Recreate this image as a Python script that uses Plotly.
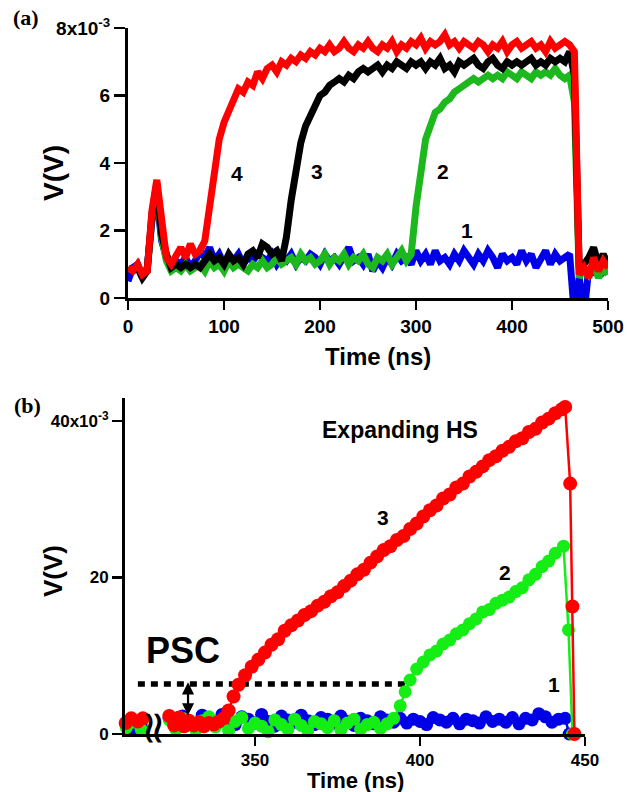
import plotly.graph_objects as go

# ---------------- Panel (a) data (values in mV, time in ns) ----------------
t_a = list(range(0, 505, 5))
v4_red = [0.9, 0.8, 1.0, 0.7, 0.8, 2.6, 3.5, 2.1, 1.2, 1.0,
          1.3, 1.5, 1.2, 1.6, 1.3, 1.4, 1.7, 2.7, 3.8, 4.7,
          5.2, 5.5, 5.9, 6.2, 6.1, 6.4, 6.3, 6.7, 6.5, 6.8,
          6.9, 6.7, 7.0, 6.9, 7.1, 7.0, 7.2, 7.1, 7.3, 7.2,
          7.4, 7.3, 7.5, 7.3, 7.4, 7.6, 7.4, 7.3, 7.5, 7.4,
          7.6, 7.4, 7.3, 7.5, 7.4, 7.6, 7.3, 7.5, 7.4, 7.6,
          7.5, 7.7, 7.4, 7.6, 7.5, 7.6, 7.8, 7.5, 7.6, 7.4,
          7.6, 7.5, 7.4, 7.6, 7.5, 7.3, 7.5, 7.4, 7.6, 7.3,
          7.5, 7.6, 7.4, 7.5, 7.6, 7.4, 7.5, 7.3, 7.6, 7.4,
          7.5, 7.6, 7.5, 7.3, 0.7, 0.9, 0.6, 1.2, 0.8, 1.1,
          0.9]
v3_black = [0.9, 0.8, 0.9, 0.6, 0.8, 2.5, 3.4, 1.9, 1.3, 0.9,
            1.0, 0.9, 1.0, 0.9, 1.0, 0.9, 1.1, 1.3, 1.1, 1.2,
            1.0, 1.3, 1.1, 1.2, 1.0, 1.3, 1.4, 1.2, 1.6, 1.5,
            1.3, 1.4, 1.1, 1.8, 2.9, 3.8, 4.6, 5.1, 5.4, 5.7,
            6.0, 6.1, 6.3, 6.4, 6.5, 6.4, 6.6, 6.5, 6.7, 6.8,
            6.7, 6.8, 6.9, 6.7, 6.9, 6.8, 7.0, 6.9, 6.8, 7.0,
            6.9, 7.0, 6.8, 7.0, 6.9, 7.1, 6.8, 6.9, 6.7, 7.0,
            6.9, 7.0, 7.1, 6.9, 6.8, 7.0, 7.1, 6.9, 6.8, 7.0,
            6.9, 7.0, 6.9, 7.0, 7.1, 6.9, 7.0, 6.9, 7.1, 7.0,
            7.1, 7.0, 7.3, 6.6, 0.9, 1.0, 1.2, 1.5, 1.0, 1.3,
            1.0]
v2_green = [0.9, 0.8, 0.9, 0.7, 0.8, 2.4, 3.3, 1.8, 1.1, 0.8,
            0.9, 0.8, 1.0, 0.8, 0.9, 1.0, 0.8, 1.1, 0.9, 1.0,
            0.8, 1.1, 0.9, 1.0, 0.9, 0.8, 1.0, 0.9, 1.1, 0.9,
            1.0, 1.2, 1.0, 1.1, 1.2, 1.0, 1.3, 1.1, 1.2, 1.0,
            1.1, 1.3, 1.0, 1.2, 1.1, 1.3, 1.0, 1.2, 1.1, 1.3,
            1.0, 0.9, 1.2, 1.1, 1.3, 1.0, 1.2, 1.4, 1.1, 1.3,
            2.7, 3.9, 4.7, 5.1, 5.5, 5.6, 5.8, 5.9, 6.1, 6.2,
            6.3, 6.4, 6.5, 6.4, 6.5, 6.6, 6.5, 6.6, 6.5, 6.7,
            6.6, 6.5, 6.7, 6.6, 6.5, 6.7, 6.6, 6.7, 6.6, 6.8,
            6.6, 6.5, 6.6, 5.8, 0.6, 0.9, 0.7, 1.0, 0.6, 0.9,
            0.7]
v1_blue = [0.5, 0.9, 1.0, 0.6, 0.9, 2.3, 3.0, 1.7, 1.2, 0.9,
           1.1, 1.0, 1.2, 0.9, 1.1, 1.4, 1.2, 1.5, 1.1, 1.3,
           1.0, 1.2, 1.1, 1.3, 1.0, 1.2, 1.1, 1.3, 1.2, 1.1,
           1.3, 1.0, 1.2, 1.1, 1.3, 1.0, 1.2, 1.1, 1.3, 1.2,
           1.0, 1.3, 1.1, 1.2, 1.0, 1.3, 1.5, 1.1, 1.2, 1.0,
           1.3, 0.8, 1.1, 0.9, 1.2, 1.0, 1.3, 1.1, 1.2, 1.0,
           1.4, 1.1, 1.3, 1.0, 1.4, 1.1, 1.2, 1.0, 1.3, 1.1,
           1.4, 1.2, 1.0, 1.3, 1.1, 1.4, 1.2, 0.9, 1.3, 1.1,
           1.2, 1.0, 1.4, 1.1, 1.3, 0.9, 1.2, 1.4, 1.0, 1.3,
           1.1, 1.2, 1.3, -0.5, 0.6, -0.5, 0.9, 0.7, 1.1, 0.8,
           1.0]

# ---------------- Panel (b) data (values in mV, time in ns) ----------------
t_b_red = [310.8, 312.5, 314.5, 316.0, None,
           324.0, 325.5, 327.0, 328.5, 330.0, 331.5, 333.0, 334.5, 336.0, 337.5,
           339.0, 340.5, 342.0, 343.5,
           345, 347, 349, 351, 353, 355, 357, 359, 361, 363, 365, 367, 369, 371,
           373, 375, 377, 379, 381, 383, 385, 387, 389, 391, 393, 395, 397, 399,
           401, 403, 405, 407, 409, 411, 413, 415, 417, 419, 421, 423, 425, 427,
           429, 431, 433, 435, 437, 439, 441, 443, 444, 445.5, 446.2, 446.8]
v_b_red = [1.4, 2.0, 1.6, 2.0, None,
           2.3, 1.1, 2.1, 1.0, 1.7, 1.1, 1.5, 1.0, 1.4, 1.2,
           1.6, 2.0, 3.0, 4.8,
           6.3, 7.5, 8.6, 9.5, 10.4, 11.4, 12.1, 13.2, 13.9, 14.5, 15.2, 15.7, 16.4, 16.9,
           17.6, 18.1, 18.9, 19.6, 20.4, 21.0, 21.9, 22.7, 23.5, 24.0, 24.8, 25.3, 26.2, 26.9,
           27.8, 28.6, 29.2, 30.1, 30.6, 31.5, 32.0, 32.9, 33.5, 34.2, 35.0, 35.5, 36.2, 36.7,
           37.4, 37.8, 38.6, 39.0, 39.8, 40.3, 41.0, 41.5, 41.8, 32.0, 16.3, 0.0]

t_b_green = ([311.0, 313.0, 315.5, None] + list(range(324, 393, 2)) +
             [394.0, 395.5, 397, 399, 401, 403, 405, 407, 409, 411, 413, 415, 417,
              419, 421, 423, 425, 427, 429, 431, 433, 435, 437, 439, 441, 443.5,
              445.0, 446.2])
v_b_green = ([0.8, 1.5, 0.6, None] +
             [1.8, 0.6, 2.0, 1.2, 0.5, 1.7, 2.2, 0.9, 1.5, 0.4,
              1.6, 2.1, 0.7, 1.4, 1.0, 0.3, 1.8, 1.2, 0.6, 1.9,
              1.1, 0.4, 1.6, 1.3, 0.8, 1.7, 0.5, 1.4, 1.9, 0.6,
              1.2, 1.5, 0.7, 1.3, 2.0] +
             [3.6, 5.4, 6.9, 8.3, 9.2, 10.1, 10.6, 11.5, 12.0, 12.8, 13.3, 14.1, 14.7,
              15.6, 15.9, 16.7, 17.1, 17.5, 18.2, 18.7, 19.7, 20.4, 21.4, 22.1, 23.1, 24.0,
              13.3, 0.0])

t_b_blue = [311.0, 313.0, 315.5, None] + list(range(324, 445, 2)) + [445.2]
v_b_blue = ([1.2, 0.5, 1.0, None] +
            [2.0, 1.4, 2.3, 1.6, 1.1, 2.4, 1.8, 1.3, 2.5, 1.7,
             1.2, 2.2, 1.9, 1.4, 2.5, 1.6, 1.0, 2.3, 1.8, 1.5,
             2.4, 1.7, 1.2, 2.1, 1.9, 1.4, 2.3, 1.6, 1.1, 2.0,
             1.7, 1.3, 2.2, 1.8, 1.5, 2.0, 1.4, 1.9, 1.6, 1.2,
             2.1, 1.8, 1.5, 2.0, 1.3, 1.9, 1.7, 1.4, 2.2, 1.6,
             1.9, 1.5, 2.1, 1.3, 2.0, 1.8, 2.6, 2.2, 1.5, 1.9,
             2.0] + [0.0])

psc_t = [314.5, 397.0]
psc_level = [6.4, 6.4]
psc_arrow = {"t": 329.7, "top": 6.6, "bottom": 2.2}

# tick labels
a_yticks = [0, 2, 4, 6, 8]
a_yticktext = ["0", "2", "4", "6", "8x10<sup>-3</sup>"]
a_xticks = [0, 100, 200, 300, 400, 500]
b_yticks = [0, 20, 40]
b_yticktext = ["0", "20", "40x10<sup>-3</sup>"]
b_xticks = [350, 400, 450]

mV = 1e-3
def scale(vals):
    return [None if v is None else v * mV for v in vals]

RED = "#FF0000"
BLACK = "#000000"
GREEN_A = "#1DB81D"
BLUE = "#0000E8"
GREEN_B = "#14EE14"
SANS = "Liberation Sans, Arial, sans-serif"

fig = go.Figure()

# Panel (a)
for vals, col in [(v1_blue, BLUE), (v2_green, GREEN_A), (v3_black, BLACK), (v4_red, RED)]:
    fig.add_trace(go.Scatter(x=t_a, y=scale(vals), mode="lines",
                             line=dict(color=col, width=7),
                             xaxis="x", yaxis="y", showlegend=False))

# Panel (b)
fig.add_trace(go.Scatter(x=psc_t, y=scale(psc_level), mode="lines",
                         line=dict(color="black", width=5.5, dash="7px,6px"),
                         xaxis="x2", yaxis="y2", showlegend=False, cliponaxis=False))
for tt, vals, col, ms in [(t_b_blue, v_b_blue, BLUE, 13),
                          (t_b_green, v_b_green, GREEN_B, 13),
                          (t_b_red, v_b_red, RED, 14)]:
    fig.add_trace(go.Scatter(x=tt, y=scale(vals), mode="lines+markers",
                             line=dict(color=col, width=2.5),
                             marker=dict(color=col, size=ms, symbol="circle"),
                             connectgaps=False, cliponaxis=False,
                             xaxis="x2", yaxis="y2", showlegend=False))

axis_common = dict(showgrid=False, zeroline=False, showline=True, linecolor="black",
                   linewidth=3, ticks="outside", tickcolor="black", tickwidth=2.5,
                   automargin=False)

W, H = 627, 792
def px(x):
    return x / W
def py(y):
    return 1 - y / H

fig.update_layout(
    template="none",
    width=W, height=H, margin=dict(l=0, r=0, t=0, b=0, pad=0), autosize=False,
    paper_bgcolor="white", plot_bgcolor="white", showlegend=False,
    xaxis=dict(domain=[px(128), px(608)], range=[0, 500], anchor="y",
               tickvals=a_xticks, ticklen=9,
               tickfont=dict(family=SANS, size=19, weight="bold", color="black"),
               **axis_common),
    yaxis=dict(domain=[py(298), py(28)], range=[0, 8e-3], anchor="x",
               tickvals=[v * mV for v in a_yticks], ticktext=a_yticktext, ticklen=11,
               tickfont=dict(family=SANS, size=19, weight="bold", color="black"),
               **axis_common),
    xaxis2=dict(domain=[px(125), px(585)], range=[310.6, 450], anchor="y2",
                tickvals=b_xticks, ticklen=9,
                tickfont=dict(family=SANS, size=17, weight="bold", color="black"),
                **axis_common),
    yaxis2=dict(domain=[py(734), py(398)], range=[0, 42.94e-3], anchor="x2",
                tickvals=[v * mV for v in b_yticks], ticktext=b_yticktext, ticklen=10,
                tickfont=dict(family=SANS, size=17, weight="bold", color="black"),
                **axis_common),
)

def ann_paper(text, x, y, size, angle=0, family=SANS):
    fig.add_annotation(text=text, x=px(x), y=py(y), xref="paper", yref="paper",
                       showarrow=False, textangle=angle, xanchor="center", yanchor="middle",
                       font=dict(family=family, size=size, weight="bold", color="black"))

def ann_data(text, x, y, size, xr="x", yr="y"):
    fig.add_annotation(text=text, x=x, y=y * mV, xref=xr, yref=yr, showarrow=False,
                       xanchor="center", yanchor="middle",
                       font=dict(family=SANS, size=size, weight="bold", color="black"))

SERIF = "Liberation Serif, Times New Roman, serif"
# Panel (a) labels
ann_paper("(a)", 26, 18, 22, family=SERIF)
ann_paper("V(V)", 53, 173, 28, angle=-90)
ann_paper("Time (ns)", 378, 357, 24)
ann_data("4", 113.5, 3.7, 21)
ann_data("3", 197, 3.76, 21)
ann_data("2", 328, 3.76, 21)
ann_data("1", 353, 2.0, 21)

# Panel (b) labels
ann_paper("(b)", 27, 405, 22, family=SERIF)
ann_paper("V(V)", 53, 571, 26, angle=-90)
ann_paper("Time (ns)", 355, 780, 22)
ann_data("Expanding HS", 393.9, 38.9, 23, "x2", "y2")
ann_data("3", 388.8, 27.7, 21, "x2", "y2")
ann_data("2", 425.8, 20.6, 21, "x2", "y2")
ann_data("1", 440.6, 6.3, 21, "x2", "y2")
ann_data("PSC", 328.2, 10.7, 36, "x2", "y2")

# axis break squiggle
fig.add_annotation(text="≈", x=319.7, y=0.8 * mV, xref="x2", yref="y2", showarrow=False,
                   textangle=90, font=dict(family="DejaVu Sans", size=46, color="black"))

# PSC double arrow
fig.add_annotation(x=psc_arrow["t"], y=psc_arrow["top"] * mV,
                   ax=psc_arrow["t"], ay=psc_arrow["bottom"] * mV,
                   xref="x2", yref="y2", axref="x2", ayref="y2",
                   text="", showarrow=True, arrowhead=2, startarrowhead=2,
                   arrowside="end+start", arrowwidth=2.2, arrowsize=1.1,
                   arrowcolor="black", standoff=0, startstandoff=0)

fig.write_html("out.html",
               config={"displayModeBar": False, "staticPlot": True},
               post_script="document.body.style.margin='0px';"
                           "document.body.style.padding='0px';"
                           "document.body.style.overflow='hidden';")
